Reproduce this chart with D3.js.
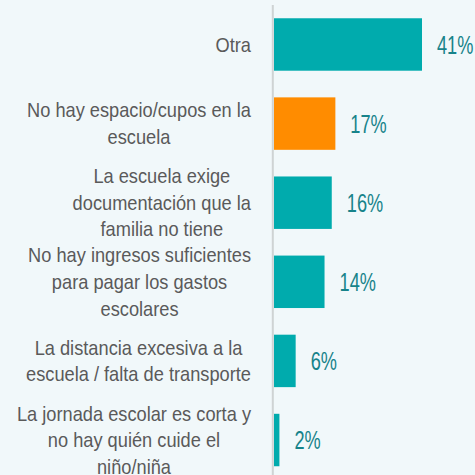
<!DOCTYPE html>
<html>
<head>
<meta charset="utf-8">
<title>Razones</title>
<script src="https://cdn.jsdelivr.net/npm/d3@7"></script>
<style>
  html, body { margin: 0; padding: 0; background: #f1f8fa; }
  svg { display: block; }
</style>
</head>
<body>
<div id="container"></div>
<script>

// category labels, one entry per line
const categories = [
  ["Otra"],
  ["No hay espacio/cupos en la", "escuela"],
  ["La escuela exige", "documentación que la", "familia no tiene"],
  ["No hay ingresos suficientes", "para pagar los gastos", "escolares"],
  ["La distancia excesiva a la", "escuela / falta de transporte"],
  ["La jornada escolar es corta y", "no hay quién cuide el", "niño/niña"]
];
const values = [41, 17, 16, 14, 6, 1.5];
const highlighted = [1];

const width = 475,
      height = 475,
      axisX = 274,
      labelRight = 251;

const svg = d3.select("#container")
  .append("svg")
  .attr("width", width)
  .attr("height", height)
  .style("background", "#f1f8fa");

const x = d3.scaleLinear()
  .domain([0, 41])
  .range([axisX, 422]);

const y = d3.scaleBand()
  .domain(d3.range(categories.length))
  .range([-8.4, 492.9])
  .padding(0.337);

const font = "'Liberation Sans', Arial, sans-serif";

// baseline line
svg.append("line")
  .attr("x1", axisX - 1.2).attr("x2", axisX - 1.2)
  .attr("y1", 5).attr("y2", height)
  .attr("stroke", "#cfd3d4")
  .attr("stroke-width", 2);

svg.selectAll("rect.bar")
  .data(values)
  .enter()
  .append("rect")
  .attr("class", "bar")
  .attr("x", x(0))
  .attr("y", (d, i) => y(i))
  .attr("width", d => x(d) - x(0))
  .attr("height", y.bandwidth())
  .attr("fill", (d, i) => highlighted.includes(i) ? "#ff8c00" : "#00abad");

// condensed look: squeeze the text horizontally
svg.selectAll("text.value")
  .data(values)
  .enter()
  .append("text")
  .attr("class", "value")
  .attr("transform", (d, i) => `translate(${x(d) + 15}, ${y(i) + y.bandwidth() / 2}) scale(0.70, 1)`)
  .attr("dy", "0.36em")
  .style("font-family", font)
  .style("font-size", "26px")
  .style("fill", "#17838a")
  .text(d => d3.format(".0f")(d) + "%");

const lineH = 26.6,
      squeeze = 0.89;
categories.forEach(function(lines, i) {
  const cy = y(i) + y.bandwidth() / 2;
  const g = svg.append("text")
    .attr("transform", `translate(${labelRight}, ${cy}) scale(${squeeze}, 1)`)
    .style("font-family", font)
    .style("font-size", "20.5px")
    .style("fill", "#5a5a5a")
    .attr("text-anchor", "middle");
  const spans = g.selectAll("tspan")
    .data(lines)
    .enter()
    .append("tspan")
    .attr("y", (d, k) => (k - (lines.length - 1) / 2) * lineH)
    .attr("dy", "0.35em")
    .text(d => d);
  let maxW = 0;
  spans.each(function() { maxW = Math.max(maxW, this.getComputedTextLength()); });
  spans.attr("x", -maxW / 2);
});

</script>
</body>
</html>
